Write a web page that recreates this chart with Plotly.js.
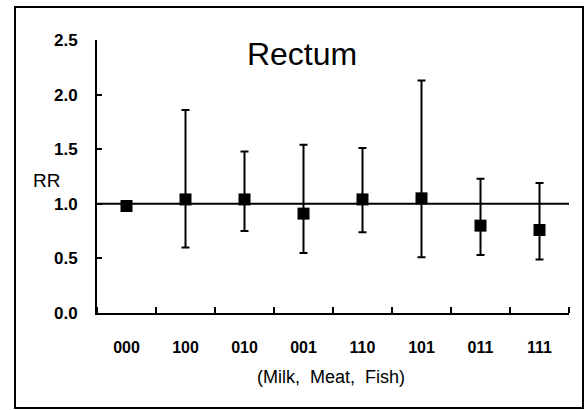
<!DOCTYPE html>
<html>
<head>
<meta charset="utf-8">
<script src="https://cdn.plot.ly/plotly-3.0.1.min.js"></script>
<style>html,body{margin:0;padding:0;background:#fff;}#chart{width:585px;height:410px;}</style>
</head>
<body>
<div id="chart"></div>
<script>
var categories = ["000", "100", "010", "001", "110", "101", "011", "111"];
var rr = [0.98, 1.04, 1.04, 0.91, 1.04, 1.05, 0.80, 0.76];
var upper = [0.98, 1.86, 1.48, 1.54, 1.51, 2.13, 1.23, 1.19];
var lower = [0.98, 0.60, 0.75, 0.55, 0.74, 0.51, 0.53, 0.49];
var refValue = 1.0;

var idx = categories.map(function(c, i){ return i; });
var errPlus = rr.map(function(v, i){ return upper[i] - v; });
var errMinus = rr.map(function(v, i){ return v - lower[i]; });

var W = 585, H = 410, L = 97, R = 16, T = 40, B = 97;
var pw = W - L - R, ph = H - T - B;
function px(x){ return (x - L) / pw; }
function py(y){ return (H - B - y) / ph; }

var font = "Liberation Sans, Arial, sans-serif";

var trace = {
  x: idx, y: rr, type: 'scatter', mode: 'markers',
  marker: {symbol: 'square', size: 12, color: '#000', line: {width: 0}},
  error_y: {type: 'data', symmetric: false, array: errPlus, arrayminus: errMinus,
            color: '#000', thickness: 2, width: 4},
  cliponaxis: false, hoverinfo: 'skip', showlegend: false
};

var layout = {
  width: W, height: H,
  margin: {l: L, r: R, t: T, b: B, pad: 0},
  paper_bgcolor: '#fff', plot_bgcolor: '#fff',
  font: {family: font, color: '#000', size: 15},
  showlegend: false,
  title: {text: 'Rectum', font: {family: font, size: 32, color: '#000'},
          x: 302 / W, xanchor: 'center', xref: 'container',
          y: 1 - 54 / H, yanchor: 'middle', yref: 'container'},
  xaxis: {
    range: [-0.5, 7.5], tickmode: 'array', tickvals: idx, ticktext: categories,
    ticks: '', showgrid: false, zeroline: false, showline: true,
    linecolor: '#000', linewidth: 2, ticklabelstandoff: 19,
    tickfont: {family: font, size: 16, color: '#000', weight: 'bold'},
    minor: {tickmode: 'linear', tick0: 0.5, dtick: 1, ticks: 'inside', ticklen: 6,
            tickwidth: 2, tickcolor: '#000', showgrid: false},
    fixedrange: true
  },
  yaxis: {
    range: [0, 2.5], tickmode: 'array', tickvals: [0, 0.5, 1, 1.5, 2, 2.5],
    tickformat: '.1f', ticks: 'inside', ticklen: 5, tickwidth: 2, tickcolor: '#000',
    showgrid: false, zeroline: false, showline: true, linecolor: '#000', linewidth: 2,
    ticklabelstandoff: 14,
    tickfont: {family: font, size: 17, color: '#000', weight: 'bold'},
    fixedrange: true
  },
  shapes: [
    {type: 'line', xref: 'x', yref: 'y', x0: -0.5, x1: 7.55, y0: refValue, y1: refValue,
     line: {color: '#000', width: 2}},
    {type: 'rect', xref: 'paper', yref: 'paper', x0: px(15), x1: px(583), y0: py(408), y1: py(7),
     line: {color: '#000', width: 2}, fillcolor: 'rgba(0,0,0,0)'}
  ],
  annotations: [
    {text: 'RR', xref: 'paper', yref: 'paper', x: px(46), y: py(180),
     xanchor: 'center', yanchor: 'middle', showarrow: false,
     font: {family: font, size: 19, color: '#000'}},
    {text: '(Milk,  Meat,  Fish)', xref: 'paper', yref: 'paper', x: px(331), y: py(377),
     xanchor: 'center', yanchor: 'middle', showarrow: false,
     font: {family: font, size: 18, color: '#000'}}
  ]
};

Plotly.newPlot('chart', [trace], layout, {staticPlot: true, displayModeBar: false});
</script>
</body>
</html>
